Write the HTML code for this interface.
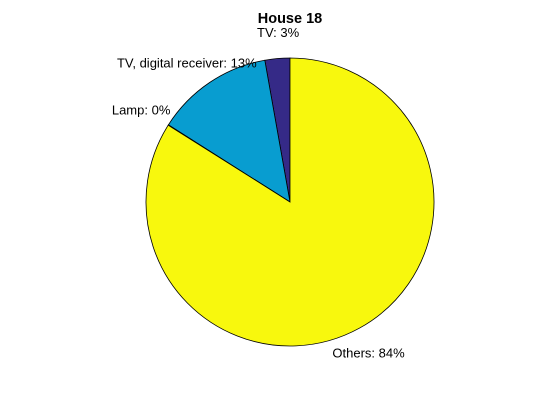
<!DOCTYPE html>
<html><head><meta charset="utf-8"><style>
html,body{margin:0;padding:0;background:#fff;}
svg{display:block;font-family:"Liberation Sans",sans-serif;}
</style></head><body>
<svg id="chart" width="560" height="420">
<rect width="560" height="420" fill="#fff"/>
<text x="290" y="23" text-anchor="middle" font-size="14.5" font-weight="bold">House 18</text>
<g id="slices"></g><g id="labels"></g>
</svg>
<script>
const categories = ["TV", "TV, digital receiver", "Lamp", "Others"];
const values = [2.8, 13.2, 0.05, 83.95];
const pctLabels = ["3%", "13%", "0%", "84%"];
const colors = ["#352a87", "#089dd0", "#80c080", "#f8f80d"];
const cx = 290, cy = 202, r = 144;
const NS = "http://www.w3.org/2000/svg";
const total = values.reduce((a, b) => a + b, 0);
function pt(frac, rad) {
  const th = frac * 2 * Math.PI;
  return [cx - rad * Math.sin(th), cy - rad * Math.cos(th)];
}
const gS = document.getElementById("slices"), gL = document.getElementById("labels");
let acc = 0;
values.forEach((v, i) => {
  const f0 = acc / total, f1 = (acc + v) / total;
  acc += v;
  const p0 = pt(f0, r), p1 = pt(f1, r);
  const large = (f1 - f0) > 0.5 ? 1 : 0;
  const path = document.createElementNS(NS, "path");
  path.setAttribute("d", `M${cx},${cy} L${p0[0]},${p0[1]} A${r},${r} 0 ${large} 0 ${p1[0]},${p1[1]} Z`);
  path.setAttribute("fill", colors[i]);
  path.setAttribute("stroke", "#000");
  path.setAttribute("stroke-width", "0.8");
  
  
  gS.appendChild(path);
  const fm = (f0 + f1) / 2;
  const lp = pt(fm, r * 1.1);
  const left = lp[0] < cx - 30;
  const t = document.createElementNS(NS, "text");
  t.setAttribute("x", left ? lp[0] - 15 : lp[0] + 2);
  t.setAttribute("y", lp[1] < cy ? lp[1] - (left ? 3 : 7) : lp[1] + 17);
  t.setAttribute("text-anchor", "middle");
  t.setAttribute("font-size", "13");
  t.textContent = categories[i] + ": " + pctLabels[i];
  
  
  gL.appendChild(t);
});
</script>
</body></html>
